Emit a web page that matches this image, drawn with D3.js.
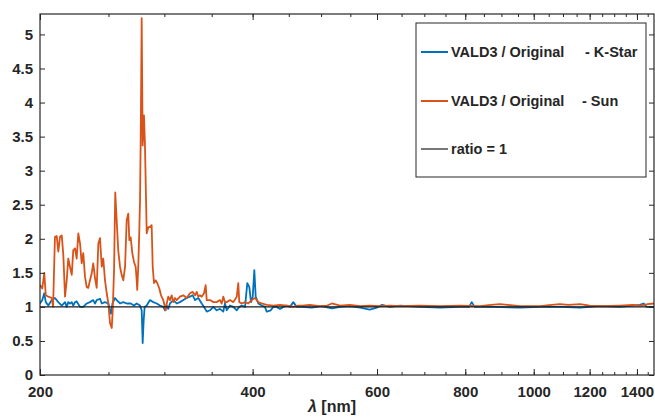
<!DOCTYPE html>
<html>
<head>
<meta charset="utf-8">
<script src="https://cdn.jsdelivr.net/npm/d3@7"></script>
<style>
  body { margin: 0; background: #fff; }
  text { font-family: "Liberation Sans", Arial, sans-serif; font-weight: bold; fill: #262626; }
</style>
</head>
<body>
<svg id="chart" width="655" height="418"></svg>
<script>
// ratio of VALD3 line list vs original, two stars, log wavelength axis

var kstarWl = [200, 201.5, 202.8, 203.8, 205.5, 207.8, 210.0, 212.3, 214.7, 217.0, 218.2, 219.3, 220.5, 221.8,
  222.9, 224.2, 225.4, 227.9, 230.3, 232.9, 235.4, 237.9, 239.3, 240.6, 243.2, 244.6, 247.2, 249.9, 251.3,
  252.1, 253.3, 255.4, 256.8, 259.6, 262.4, 265.3, 268.8, 271.7, 274.1, 277.1, 278.6, 279.5, 280.4, 281.3,
  283.2, 286.2, 289.3, 292.6, 295.7, 298.9, 300.6, 302.3, 303.8, 305.5, 308.8, 312.3, 315.6, 319.1, 322.6,
  326.1, 329.0, 331.5, 335.1, 338.8, 341.4, 344.4, 348.1, 351.9, 355.8, 359.6, 363.5, 365.5, 367.6, 371.5,
  375.6, 379.8, 383.0, 386.0, 390.2, 393.1, 395.7, 397.9, 400.1, 402.2, 404.0, 407.5, 412.0, 416.4, 418.7,
  424.3, 427.9, 432.6, 437.3, 442.0, 447.0, 451.8, 456.7, 461.8, 470, 485, 500, 518, 532, 549, 568, 586,
  600, 610, 626, 647, 690, 737, 786, 810, 817, 825, 870, 956, 1021, 1089, 1163, 1241, 1325, 1414, 1430,
  1445, 1480];
var kstarRatio = [1.05, 1.1, 1.2, 1.07, 1.02, 1.1, 1.13, 1.07, 1.02, 1.07, 1.0, 1.07, 1.05, 1.07,
  1.02, 1.07, 1.08, 1.0, 1.0, 1.05, 1.07, 1.1, 1.05, 1.1, 1.12, 1.05, 1.07, 1.05, 0.95,
  0.9, 1.05, 1.13, 1.1, 1.05, 1.07, 1.05, 1.05, 1.02, 1.05, 1.02, 0.95, 0.47, 0.8, 1.0,
  1.02, 1.1, 1.07, 1.05, 1.02, 1.0, 0.95, 1.02, 0.97, 1.05, 1.1, 1.05, 1.07, 1.1, 1.13,
  1.15, 1.17, 1.1, 1.13, 1.05, 1.0, 0.93, 0.95, 1.0, 0.95, 0.97, 0.93, 1.05, 0.95, 1.02,
  1.0, 0.95, 1.0, 1.02, 1.0, 1.35, 1.29, 1.07, 1.15, 1.54, 1.15, 1.05, 1.02, 1.0, 0.93,
  0.95, 1.0, 1.0, 0.97, 1.0, 1.02, 1.0, 1.07, 1.0, 1.0, 0.99, 1.01, 0.98, 1.0, 1.01, 0.99, 0.96,
  0.99, 1.03, 1.0, 1.02, 1.0, 0.99, 1.0, 1.0, 1.07, 1.0, 1.0, 0.99, 1.0, 1.0, 0.99, 1.01, 1.0, 1.03, 1.05,
  1.0, 1.0];

var sunWl = [200, 201.5, 202.8, 203.8, 205.5, 207.8, 208.7, 210.0, 211.2, 212.3, 213.5, 214.7, 215.8, 217.0,
  218.2, 219.3, 220.5, 221.8, 222.9, 224.2, 225.4, 226.6, 227.9, 229.1, 230.3, 231.6, 232.9, 234.1, 235.4,
  236.7, 237.9, 239.3, 240.6, 241.9, 243.2, 244.6, 245.8, 247.2, 248.6, 249.9, 251.3, 252.7, 253.5, 254.6,
  255.6, 256.8, 258.1, 259.6, 261.0, 262.4, 263.9, 265.3, 266.7, 267.6, 268.8, 270.2, 271.7, 273.2, 274.1,
  274.6, 275.5, 276.4, 277.1, 277.8, 278.6, 279.5, 280.7, 281.6, 283.2, 284.7, 286.2, 287.8, 288.8, 290.0,
  291.6, 293.1, 295.1, 296.7, 298.9, 301.3, 302.3, 303.8, 305.5, 307.2, 308.8, 310.5, 312.3, 315.6, 319.1,
  322.6, 326.1, 329.0, 331.5, 333.3, 335.1, 336.9, 338.8, 341.4, 343.2, 344.4, 348.1, 351.9, 355.8, 359.6,
  361.6, 363.5, 365.5, 367.6, 371.5, 375.6, 379.8, 381.7, 383.0, 386.0, 390.2, 394.4, 398.8, 403.1, 407.5,
  412.0, 418.7, 427.9, 437.3, 447.0, 456.7, 464, 470, 482, 498, 510, 518, 532, 549, 568, 586, 606, 626,
  647, 690, 737, 786, 839, 870, 896, 956, 1021, 1060, 1089, 1120, 1163, 1200, 1241, 1325, 1380, 1414,
  1450, 1480];
var sunRatio = [1.32, 1.27, 1.5, 1.17, 1.15, 1.13, 1.0, 2.03, 2.04, 1.81, 2.03, 2.05, 1.76, 1.15,
  1.39, 1.71, 1.59, 1.47, 1.83, 1.86, 1.71, 2.08, 1.93, 1.64, 1.79, 1.44, 1.29, 1.28, 1.39,
  1.49, 1.64, 1.42, 1.28, 1.93, 2.01, 1.59, 1.71, 1.39, 1.2, 1.05, 0.76, 0.69, 0.95, 1.54,
  2.68, 2.27, 1.83, 1.59, 1.47, 1.39, 1.59, 2.27, 2.37, 1.98, 2.02, 1.79, 1.66, 1.59, 1.39,
  1.25, 1.59, 2.08, 2.57, 3.6, 5.24, 3.37, 3.81, 3.37, 2.08, 2.17, 2.17, 2.2, 1.59, 1.35,
  1.39, 1.35, 1.27, 1.17, 1.1, 0.95, 1.05, 1.15, 1.1, 1.17, 1.07, 1.13, 1.1, 1.15, 1.17,
  1.13, 1.2, 1.22, 1.17, 1.22, 1.15, 1.17, 1.15, 1.2, 1.32, 1.1, 1.1, 1.07, 1.07, 1.1,
  1.05, 1.15, 1.07, 1.07, 1.1, 1.07, 1.15, 1.35, 1.07, 1.05, 1.07, 1.05, 1.1, 1.13, 1.07,
  1.05, 1.03, 1.02, 1.03, 1.02, 1.0, 1.02, 1.02, 1.03, 1.01, 1.02, 1.05, 1.02, 1.03, 1.01, 1.02, 1.01, 1.02,
  1.01, 1.02, 1.01, 1.02, 1.01, 1.03, 1.04, 1.01, 1.01, 1.03, 1.04, 1.03, 1.04, 1.02, 1.01, 1.02, 1.03, 1.02,
  1.04, 1.05];

var xTicksMajor = [200, 400, 600, 800, 1000, 1200, 1400];
var xTicksMinor = d3.range(250, 1480, 50);
var yTicks = [0, 0.5, 1, 1.5, 2, 2.5, 3, 3.5, 4, 4.5, 5];

var legendLabels = ["VALD3 / Original", "VALD3 / Original", "ratio = 1"];
var legendSuffix = ["- K-Star", "- Sun", ""];
var colors = ["#0072BD", "#D95319", "#777777"];

var svg = d3.select("#chart");
// note: "top" is a read-only window global, so use other names for the margins
var pL = 40, pR = 654, pT = 14, pB = 375;

var x = d3.scaleLog().domain([200, 1480]).range([pL, pR]);
var y = d3.scaleLinear().domain([0, 5.3]).range([pB, pT]);

svg.append("clipPath").attr("id", "clip")
  .append("rect").attr("x", pL).attr("y", pT)
  .attr("width", pR - pL).attr("height", pB - pT);

var line = d3.line()
  .x(function(d) { return x(d[0]); })
  .y(function(d) { return y(d[1]); });

var series = [
  d3.zip(kstarWl, kstarRatio),
  d3.zip(sunWl, sunRatio)
];

var plot = svg.append("g").attr("clip-path", "url(#clip)");

plot.selectAll("path.series")
  .data(series)
  .enter()
  .append("path")
  .attr("class", "series")
  .attr("d", line)
  .attr("fill", "none")
  .attr("stroke", function(d, i) { return colors[i]; })
  .attr("stroke-width", 1.8)
  .attr("stroke-linejoin", "round");

// the ratio = 1 reference line goes on top
plot.append("path")
  .attr("d", line([[200, 1], [1480, 1]]))
  .attr("stroke", "#1a1a1a")
  .attr("stroke-width", 1.3);

// axes: ticks point inward, on all four sides like matlab
var axisColor = "#262626";

svg.append("g").attr("transform", "translate(0," + pB + ")")
  .call(d3.axisBottom(x).tickValues(xTicksMajor).tickFormat(d3.format("d")).tickSize(-6).tickPadding(11));
svg.append("g").attr("transform", "translate(0," + pB + ")")
  .call(d3.axisBottom(x).tickValues(xTicksMinor).tickFormat("").tickSize(-3));
svg.append("g").attr("transform", "translate(0," + pT + ")")
  .call(d3.axisTop(x).tickValues(xTicksMajor).tickFormat("").tickSize(-6));
svg.append("g").attr("transform", "translate(0," + pT + ")")
  .call(d3.axisTop(x).tickValues(xTicksMinor).tickFormat("").tickSize(-3));

svg.append("g").attr("transform", "translate(" + pL + ",0)")
  .call(d3.axisLeft(y).tickValues(yTicks).tickFormat(d3.format("~g")).tickSize(-5).tickPadding(7));
svg.append("g").attr("transform", "translate(" + pR + ",0)")
  .call(d3.axisRight(y).tickValues(yTicks).tickFormat("").tickSize(-5));

svg.selectAll(".domain").remove();
svg.selectAll(".tick line").attr("stroke", axisColor);
svg.selectAll(".tick text").attr("font-size", "15px").attr("fill", axisColor)
  .style("font-family", "Liberation Sans, Arial, sans-serif").style("font-weight", "bold");

// box around the axes
svg.append("rect")
  .attr("x", pL).attr("y", pT)
  .attr("width", pR - pL).attr("height", pB - pT)
  .attr("fill", "none").attr("stroke", axisColor).attr("stroke-width", 1.2);

// x label
var xl = svg.append("text").attr("x", 332).attr("y", 412)
  .attr("text-anchor", "middle").attr("font-size", "16px");
xl.append("tspan").attr("font-style", "italic").text("λ");
xl.append("tspan").text(" [nm]");

// legend
var lg = svg.append("g");
lg.append("rect")
  .attr("x", 416).attr("y", 23).attr("width", 230).attr("height", 154)
  .attr("fill", "#fff").attr("stroke", axisColor).attr("stroke-width", 1);

var rowY = [52, 101, 149];
var suffixX = [585, 582, 0];

legendLabels.forEach(function(lab, i) {
  lg.append("line")
    .attr("x1", 421).attr("x2", 448)
    .attr("y1", rowY[i]).attr("y2", rowY[i])
    .attr("stroke", colors[i]).attr("stroke-width", 2);
  lg.append("text").attr("x", 451).attr("y", rowY[i] + 5)
    .attr("font-size", "14.5px").text(lab);
  if (legendSuffix[i]) {
    lg.append("text").attr("x", suffixX[i]).attr("y", rowY[i] + 5)
      .attr("font-size", "14.5px").text(legendSuffix[i]);
  }
});
</script>
</body>
</html>
